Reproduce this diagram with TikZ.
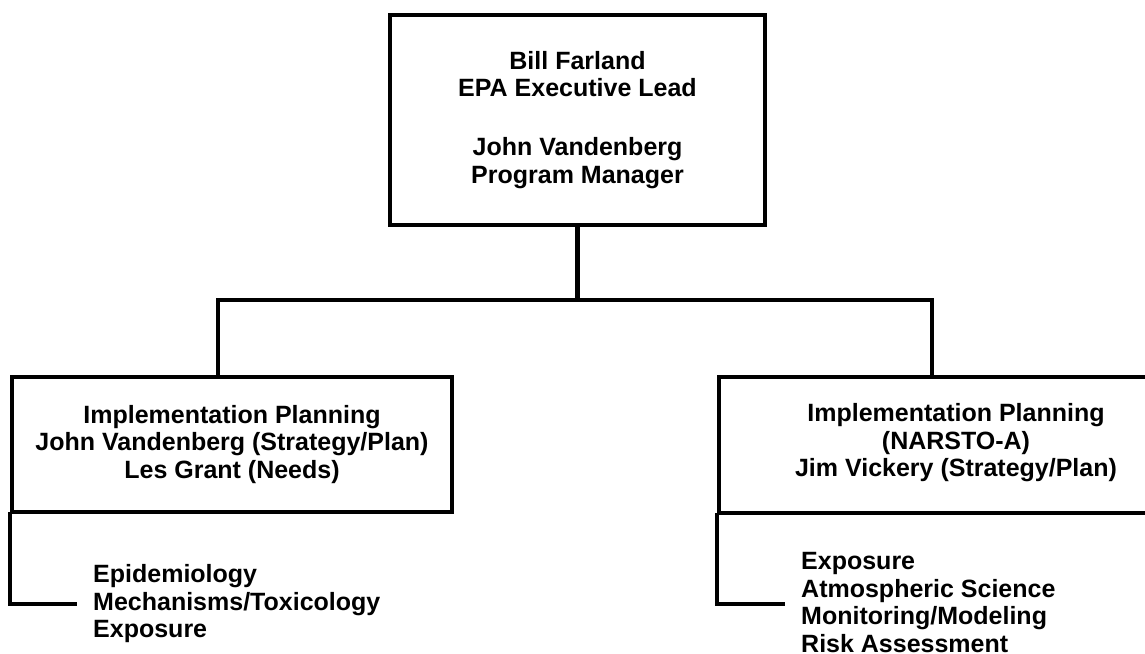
\documentclass[tikz,border=0pt]{standalone}
\usepackage{fontspec}
\setmainfont{Liberation Sans}
\begin{document}
\begin{tikzpicture}[
    x=1pt, y=-1pt,
    box/.style={rectangle, draw, line width=4.5pt, align=center, inner sep=0pt,
                font=\fontsize{25}{27.5}\selectfont\bfseries},
    list/.style={align=left, anchor=west, inner xsep=18pt, inner ysep=0pt,
                 font=\fontsize{25}{27.5}\selectfont\bfseries},
    txt/.style={align=center, inner sep=0pt,
                font=\fontsize{25}{27.5}\selectfont\bfseries},
    link/.style={line width=4.5pt, line cap=rect},
  ]
  \useasboundingbox (0,0) rectangle (1145,653);

  % === Top ===
  \node[box, minimum width=375pt, minimum height=210pt] (lead) at (577.5,120)
    {Bill Farland\\EPA Executive Lead\\[31.5pt]John Vandenberg\\Program Manager};

  % === Left branch ===
  \node[box, minimum width=440pt, minimum height=135pt] (lbox) at (232,444.5)
    {Implementation Planning\\John Vandenberg (Strategy/Plan)\\Les Grant (Needs)};
  \node[list] (llist) at (75,604)
    {Epidemiology\\Mechanisms/Toxicology\\Exposure};

  % === Right branch ===
  \node[box, minimum width=474pt, minimum height=136pt] (rbox) at (956,445) {};
  \node[txt] (rtext) at (956,443)
    {Implementation Planning\\(NARSTO-A)\\Jim Vickery (Strategy/Plan)};
  \node[list] (rlist) at (783,602.5)
    {Exposure\\Atmospheric Science\\Monitoring/Modeling\\Risk Assessment};

  % Connectors
  \coordinate (lbar) at (218,300);
  \coordinate (rbar) at (932,300);
  \draw[link] (lead.south) -- (lead.south |- lbar);
  \draw[link] (lbar) -- (rbar);
  \draw[link] (lbar) -- (lbar |- lbox.north);
  \draw[link] (rbar) -- (rbar |- rbox.north);
  \draw[link] (lbox.south west) |- (llist.west);
  \draw[link] (rbox.south west) |- ([yshift=-1.5pt]rlist.west);

\end{tikzpicture}
\end{document}
